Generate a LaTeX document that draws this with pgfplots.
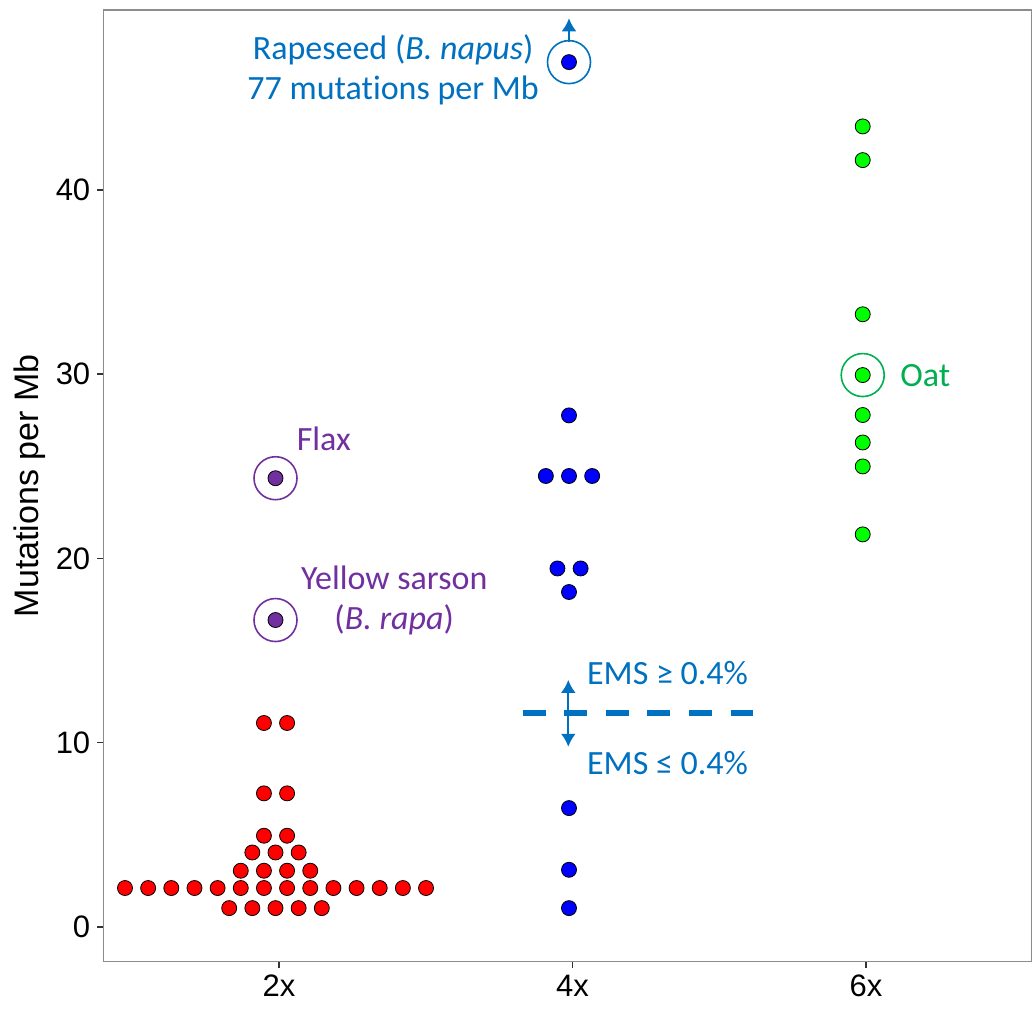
\documentclass[border=0pt]{standalone}
\usepackage{pgfplots}
\pgfplotsset{compat=1.18}
\usepackage{fontspec}
\setmainfont{Liberation Sans}
\newfontfamily\calfont[Ligatures=NoCommon]{Carlito}
\usetikzlibrary{arrows.meta}
\definecolor{annblue}{HTML}{0070C0}
\definecolor{annpurple}{HTML}{7030A0}
\definecolor{anngreen}{HTML}{00B050}
\definecolor{dotred}{HTML}{FF0000}
\definecolor{dotblue}{HTML}{0000FF}
\definecolor{dotgreen}{HTML}{00FF00}
\begin{document}
\begin{tikzpicture}
\begin{axis}[
  scale only axis, width=464.35pt, height=475.85pt,
  xmin=0.4014, xmax=3.5656, ymin=-1.9, ymax=49.77,
  clip=false,
  axis line style={black!45, line width=0.7pt},
  xtick={1,2,3}, xticklabels={2x,4x,6x},
  ytick={0,10,20,30,40},
  tick align=outside, tick pos=left,
  major tick length=3pt,
  tick style={black!80, line width=0.8pt},
  /pgf/number format/assume math mode=true,
  tick label style={font=\fontsize{15.5}{18}\selectfont, black},
  ylabel={Mutations per Mb},
  every axis y label/.style={at={(axis description cs:-0.0789,0.5)}, anchor=center, rotate=90, font=\fontsize{17}{20}\selectfont},
  every mark/.append style={line width=1pt},
]
% highlight circles
\addplot[only marks, mark=o, mark size=10.75pt, mark options={draw=annpurple, line width=0.8pt}] coordinates {(0.9881,24.35) (0.9881,16.65)};
\addplot[only marks, mark=o, mark size=10.75pt, mark options={draw=annblue, line width=0.8pt}] coordinates {(1.9881,46.94)};
\addplot[only marks, mark=o, mark size=10.75pt, mark options={draw=anngreen, line width=0.8pt}] coordinates {(2.9888,29.95)};
% dashed threshold
\addplot[annblue, line width=3.3pt, dash pattern=on 11.5pt off 9.3pt] coordinates {(1.8297,11.6) (2.6160,11.6)};
% 2x red
\addplot[only marks, mark=*, mark size=3.75pt, mark options={draw=black, fill=dotred}] coordinates {
(0.4753,2.10) (0.5542,2.10) (0.6331,2.10) (0.7120,2.10) (0.7909,2.10) (0.8698,2.10) (0.9487,2.10)
(1.0276,2.10) (1.1065,2.10) (1.1854,2.10) (1.2643,2.10) (1.3432,2.10) (1.4221,2.10) (1.5010,2.10)
(0.8303,1.01) (0.9092,1.01) (0.9881,1.01) (1.0670,1.01) (1.1459,1.01)
(0.8698,3.04) (0.9487,3.04) (1.0276,3.04) (1.1065,3.04)
(0.9092,4.03) (0.9881,4.03) (1.0670,4.03)
(0.9487,4.94) (1.0276,4.94)
(0.9487,7.24) (1.0276,7.24)
(0.9487,11.06) (1.0276,11.06)
};
% 2x purple
\addplot[only marks, mark=*, mark size=3.75pt, mark options={draw=black, fill=annpurple}] coordinates {(0.9881,24.35) (0.9881,16.65)};
% 4x blue
\addplot[only marks, mark=*, mark size=3.75pt, mark options={draw=black, fill=dotblue}] coordinates {
(1.9881,46.94) (1.9881,27.76) (1.9092,24.47) (1.9881,24.47) (2.0670,24.47)
(1.9487,19.45) (2.0276,19.45) (1.9881,18.17) (1.9881,6.44) (1.9881,3.09) (1.9881,1.01)
};
% 6x green
\addplot[only marks, mark=*, mark size=3.75pt, mark options={draw=black, fill=dotgreen}] coordinates {
(2.9888,43.45) (2.9888,41.62) (2.9888,33.25) (2.9888,29.95) (2.9888,27.78) (2.9888,26.29) (2.9888,24.99) (2.9888,21.30)
};
% arrows
\draw[annblue, line width=1.1pt, {Latex[length=6.5pt,width=7.5pt]}-{Latex[length=6.5pt,width=7.5pt]}] (axis cs:1.9857,9.77) -- (axis cs:1.9857,13.4);
\draw[annblue, line width=1.1pt, -{Latex[length=6.5pt,width=7.5pt]}] (axis cs:1.9881,48.05) -- (axis cs:1.9881,49.32);
% annotations
\node[annblue, font=\calfont\fontsize{17}{20}\selectfont, align=center] at (axis cs:1.389,46.52) {Rapeseed (\textit{B. napus})\\77 mutations per Mb};
\node[annpurple, font=\calfont\fontsize{17}{20}\selectfont] at (axis cs:1.153,26.51) {Flax};
\node[annpurple, font=\calfont\fontsize{17}{20}\selectfont, align=center] at (axis cs:1.3925,17.74) {Yellow sarson\\(\textit{B. rapa})};
\node[annblue, font=\calfont\fontsize{17}{20}\selectfont, anchor=west, inner sep=0pt] at (axis cs:2.0484,13.77) {EMS ≥ 0.4\%};
\node[annblue, font=\calfont\fontsize{17}{20}\selectfont, anchor=west, inner sep=0pt] at (axis cs:2.0484,8.89) {EMS ≤ 0.4\%};
\node[anngreen, font=\calfont\fontsize{17}{20}\selectfont, anchor=west, inner sep=0pt] at (axis cs:3.1158,29.93) {Oat};
\coordinate (SW) at (rel axis cs:0,0);
\coordinate (NE) at (rel axis cs:1,1);
\end{axis}
\pgfresetboundingbox
\useasboundingbox ([shift={(-51.65pt,-23.65pt)}]SW) rectangle ([shift={(0pt,5pt)}]NE);
\end{tikzpicture}
\end{document}
